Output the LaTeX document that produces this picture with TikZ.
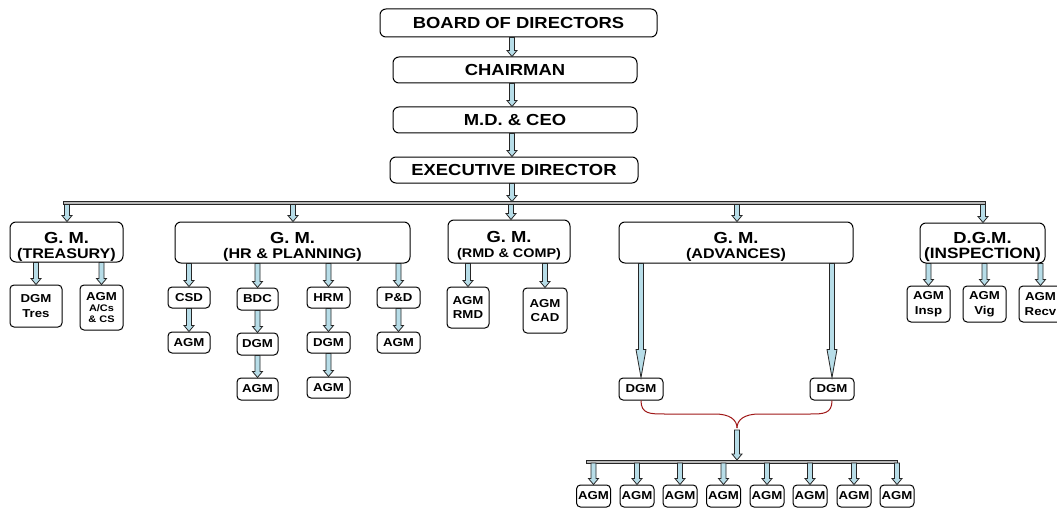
\documentclass[tikz,border=0pt]{standalone}
\usepackage{fontspec}
\setmainfont{Liberation Sans}[FakeStretch=1.15]
\usetikzlibrary{calc}
\definecolor{arrowfill}{RGB}{183,221,232}
\definecolor{bracered}{RGB}{160,25,25}
\tikzset{
  bx/.style={draw=black, line width=1pt, rounded corners=6pt, fill=white, align=center, inner sep=0pt, font=\bfseries},
  sbx/.style={bx, rounded corners=4pt},
  blk/.style={draw=black!85, line width=0.8pt, fill=arrowfill, line join=miter},
  busbar/.style={draw=black!85, line width=0.7pt, fill=gray!55},
  brace/.style={draw=bracered, line width=1pt},
  ftop/.style={font=\bfseries\fontsize{16}{18}\selectfont},
  fsmall/.style={font=\bfseries\fontsize{11.5}{14.5}\selectfont},
  gmf/.style={font=\bfseries\fontsize{14}{14}\selectfont},
}
\newcommand{\gmtext}[2]{{\rule{0pt}{20pt}\fontsize{16}{16}\selectfont #1}\\[1pt]{#2}}
% block arrow: [head length]{start}{end}
\newcommand{\barrow}[3][6]{%
  \path #2 coordinate (baA); \path #3 coordinate (baB);
  \draw[blk] let \p1=(baA), \p2=(baB) in
   (\x1-2.5pt,\y1) -- (\x1+2.5pt,\y1) -- (\x1+2.5pt,\y2+#1pt) -- (\x1+5pt,\y2+#1pt)
   -- (\x1,\y2) -- (\x1-5pt,\y2+#1pt) -- (\x1-2.5pt,\y2+#1pt) -- cycle;}
\begin{document}
\begin{tikzpicture}[x=1pt,y=-1pt]
\useasboundingbox (0,0) rectangle (1057,508);
\fill[white] (0,0) rectangle (1057,508);
% top chain
\node[bx, ftop, minimum width=277pt, minimum height=28pt] (bod) at (518.5,23) {BOARD OF DIRECTORS};
\node[bx, ftop, minimum width=244pt, minimum height=26pt] (ch) at (515,70) {CHAIRMAN};
\node[bx, ftop, minimum width=244pt, minimum height=26pt] (md) at (515,120) {M.D. \& CEO};
\node[bx, ftop, minimum width=248pt, minimum height=26pt] (ed) at (514,170) {EXECUTIVE DIRECTOR};
\coordinate (spine) at (512,0);
\barrow{(bod.south -| spine)}{(ch.north -| spine)}
\barrow{(ch.south -| spine)}{(md.north -| spine)}
\barrow{(md.south -| spine)}{(ed.north -| spine)}
% main bus
\coordinate (busT) at (63,201.5);
\coordinate (busB) at (985,204.5);
\draw[busbar] (busT) rectangle (busB);
\barrow{(ed.south -| spine)}{(busT -| spine)}
% second level
\node[bx, gmf, minimum width=113pt, minimum height=40pt] (gmT) at (66.5,242) {\gmtext{G. M.}{(TREASURY)}};
\node[bx, gmf, minimum width=235pt, minimum height=41pt] (gmH) at (292.5,242.5) {\gmtext{G. M.}{(HR \& PLANNING)}};
\node[bx, gmf, minimum width=122pt, minimum height=43pt] (gmR) at (509,241.5) {\gmtext{G. M.}{{\fontsize{12.5}{14}\selectfont (RMD \& COMP)}}};
\node[bx, gmf, minimum width=234pt, minimum height=41pt] (gmA) at (736,242.5) {\gmtext{G. M.}{(ADVANCES)}};
\node[bx, gmf, minimum width=125pt, minimum height=40pt] (gmI) at (982.5,243) {\gmtext{D.G.M.}{{\fontsize{15}{15}\selectfont (INSPECTION)}}};
\foreach \n/\xx in {gmT/67,gmH/293,gmR/511,gmA/737,gmI/983}{
  \coordinate (tmp) at (\xx,0);
  \barrow{(busB -| tmp)}{(\n.north -| tmp)}
}
% treasury children
\node[sbx, fsmall, minimum width=52pt, minimum height=42pt] (tD) at (36,306) {DGM\\Tres};
\node[sbx, minimum width=43pt, minimum height=45pt] (tA) at (101.5,307.5) {{\fontsize{11.5}{13}\selectfont AGM}\\[-1pt]{\fontsize{9.5}{11}\selectfont A/Cs}\\[-1pt]{\fontsize{9.5}{11}\selectfont \& CS}};
\barrow{(gmT.south -| tD.north)}{(tD.north)}
\barrow{(gmT.south -| tA.north)}{(tA.north)}
% HR children
\node[sbx, fsmall, minimum width=42pt, minimum height=21pt] (csd) at (189,297.5) {CSD};
\node[sbx, fsmall, minimum width=41pt, minimum height=22pt] (bdc) at (257.5,299) {BDC};
\node[sbx, fsmall, minimum width=43pt, minimum height=21pt] (hrm) at (328.5,297.5) {HRM};
\node[sbx, fsmall, minimum width=43pt, minimum height=21pt] (pd) at (398.5,297.5) {P\&D};
\node[sbx, fsmall, minimum width=42pt, minimum height=21pt] (csdA) at (189,342.5) {AGM};
\node[sbx, fsmall, minimum width=41pt, minimum height=22pt] (bdcD) at (257.5,344) {DGM};
\node[sbx, fsmall, minimum width=43pt, minimum height=21pt] (hrmD) at (328.5,342.5) {DGM};
\node[sbx, fsmall, minimum width=43pt, minimum height=21pt] (pdA) at (398.5,342.5) {AGM};
\node[sbx, fsmall, minimum width=41pt, minimum height=22pt] (bdcA) at (257.5,389) {AGM};
\node[sbx, fsmall, minimum width=43pt, minimum height=21pt] (hrmA) at (328.5,387.5) {AGM};
\foreach \n in {csd,bdc,hrm,pd}{\barrow{(gmH.south -| \n.north)}{(\n.north)}}
\barrow{(csd.south)}{(csdA.north)}
\barrow{(bdc.south)}{(bdcD.north)}
\barrow{(hrm.south)}{(hrmD.north)}
\barrow{(pd.south)}{(pdA.north)}
\barrow{(bdcD.south)}{(bdcA.north)}
\barrow{(hrmD.south)}{(hrmA.north)}
% RMD children
\node[sbx, fsmall, minimum width=42pt, minimum height=41pt] (rA1) at (468,307.5) {AGM\\RMD};
\node[sbx, fsmall, minimum width=44pt, minimum height=45pt] (rA2) at (545,310.5) {AGM\\CAD};
\barrow{(gmR.south -| rA1.north)}{(rA1.north)}
\barrow{(gmR.south -| rA2.north)}{(rA2.north)}
% Advances
\node[sbx, fsmall, minimum width=44pt, minimum height=22pt] (dL) at (641,389) {DGM};
\node[sbx, fsmall, minimum width=44pt, minimum height=22pt] (dR) at (832,389) {DGM};
\barrow[28]{(gmA.south -| dL.north)}{(dL.north)}
\barrow[28]{(gmA.south -| dR.north)}{(dR.north)}
\coordinate (tip) at (737,428);
\draw[brace] (dL.south) .. controls (641,414) and (650,414) .. (665,414) -- (715,414)
  .. controls (730,414) and (737,420) .. (tip);
\draw[brace] (dR.south) .. controls (832,414) and (823,414) .. (810,414) -- (759,414)
  .. controls (744,414) and (737,420) .. (tip);
\coordinate (bbT) at (586,460);
\coordinate (bbB) at (897,463);
\draw[busbar] (bbT) rectangle (bbB);
\barrow{($(tip)+(0,2)$)}{(bbT -| tip)}
\foreach \i/\xx in {1/593.5,2/637,3/680,4/723.5,5/767,6/810,7/854,8/897}{
  \node[sbx, fsmall, minimum width=34pt, minimum height=22pt] (a\i) at (\xx,496) {AGM};
  \barrow{(bbB -| a\i.north)}{(a\i.north)}
}
% Inspection
\node[sbx, fsmall, minimum width=43pt, minimum height=36pt] (iA1) at (928.5,304) {AGM\\Insp};
\node[sbx, fsmall, minimum width=43pt, minimum height=36pt] (iA2) at (984.5,304) {AGM\\Vig};
\node[sbx, fsmall, minimum width=43pt, minimum height=36pt] (iA3) at (1040.5,304) {AGM\\Recv};
\foreach \n in {iA1,iA2,iA3}{\barrow{(gmI.south -| \n.north)}{(\n.north)}}
\end{tikzpicture}
\end{document}
